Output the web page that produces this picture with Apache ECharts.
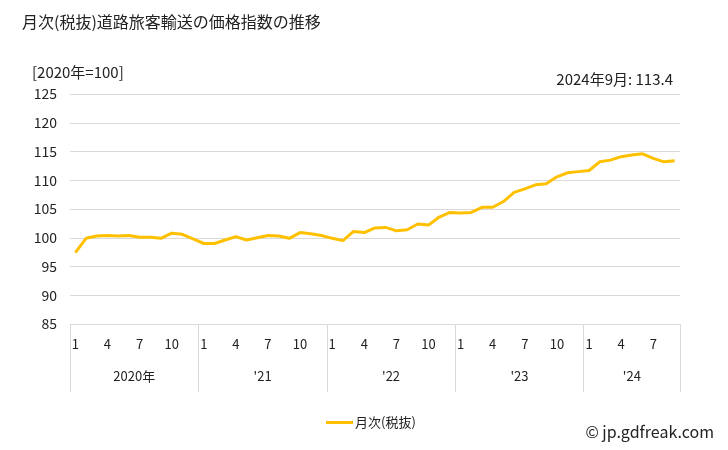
<!DOCTYPE html>
<html>
<head>
<meta charset="utf-8">
<script src="https://cdn.jsdelivr.net/npm/echarts@6/dist/echarts.min.js"></script>
<style>html,body{margin:0;padding:0;background:#fff}#c{width:728px;height:450px}</style>
</head>
<body>
<div id="c"></div>
<script>
var title = '月次(税抜)道路旅客輸送の価格指数の推移';
var unitLabel = '[2020年=100]';
var latestLabel = '2024年9月: 113.4';
var seriesName = '月次(税抜)';
var years = [2020, 2021, 2022, 2023, 2024];
var yearLabels = ['2020年', "'21", "'22", "'23", "'24"];
var monthsPerYear = [12, 12, 12, 12, 9];
var shownMonths = [1, 4, 7, 10];
var values = [
  97.4, 99.9, 100.3, 100.4, 100.3, 100.4, 100.1, 100.1, 99.9, 100.8, 100.6, 99.8,
  99.0, 99.0, 99.6, 100.2, 99.6, 100.0, 100.4, 100.3, 99.9, 100.9, 100.7, 100.4,
  99.9, 99.5, 101.1, 100.9, 101.7, 101.8, 101.2, 101.4, 102.4, 102.2, 103.6, 104.4,
  104.3, 104.4, 105.3, 105.3, 106.3, 107.9, 108.5, 109.2, 109.4, 110.6, 111.3, 111.5,
  111.7, 113.2, 113.5, 114.1, 114.4, 114.6, 113.8, 113.2, 113.4
];
var yMin = 85, yMax = 125, yStep = 5;

var categories = [];
var yearStarts = [];
var yearCenters = [];
var idx = 0;
for (var y = 0; y < years.length; y++) {
  yearStarts.push(idx);
  yearCenters.push(idx + monthsPerYear[y] / 2);
  for (var m = 1; m <= monthsPerYear[y]; m++) { categories.push(String(m)); idx++; }
}
yearStarts.push(idx);

var font = '"Noto Sans CJK JP", "Noto Sans", sans-serif';
var chart = echarts.init(document.getElementById('c'), null, {renderer: 'canvas'});
chart.setOption({
  backgroundColor: '#fff',
  animation: false,
  textStyle: {fontFamily: font},
  title: [
    {text: title, left: 17, top: 9, textStyle: {fontSize: 16, fontWeight: 'normal', color: '#222', fontFamily: font}},
    {text: unitLabel, left: 27, top: 60, textStyle: {fontSize: 15, fontWeight: 'normal', color: '#222', fontFamily: font}},
    {text: latestLabel, right: 50, top: 67, textStyle: {fontSize: 15, fontWeight: 'normal', color: '#222', fontFamily: font}},
    {text: '© jp.gdfreak.com', right: 9, top: 419, textStyle: {fontSize: 16, fontWeight: 'normal', color: '#222', fontFamily: font}}
  ],
  legend: {
    data: [seriesName], left: 321, top: 411, icon: 'rect', itemWidth: 27, itemHeight: 3, itemGap: 2,
    textStyle: {fontSize: 13, color: '#222', fontFamily: font, padding: [0, 0, 0, -3]}
  },
  grid: {left: 70, right: 48, top: 94, bottom: 126},
  xAxis: [
    {
      type: 'category', data: categories, boundaryGap: true,
      axisLine: {show: true, lineStyle: {color: '#d9d9d9', width: 1}},
      axisTick: {show: false},
      axisLabel: {
        interval: function (i, v) { return shownMonths.indexOf(Number(categories[i])) >= 0; },
        margin: 14, fontSize: 13, color: '#222', fontFamily: font
      },
      splitLine: {show: false}
    },
    {
      type: 'value', position: 'bottom', min: 0, max: categories.length,
      axisLine: {show: false},
      axisTick: {show: true, customValues: yearStarts, length: 68, lineStyle: {color: '#d9d9d9'}},
      axisLabel: {
        customValues: yearCenters, margin: 46, fontSize: 13, color: '#222', fontFamily: font,
        formatter: function (v) { var k = yearCenters.indexOf(v); return k >= 0 ? yearLabels[k] : ''; }
      },
      splitLine: {show: false}
    }
  ],
  yAxis: {
    type: 'value', min: yMin, max: yMax, interval: yStep,
    axisLine: {show: false}, axisTick: {show: false},
    axisLabel: {margin: 13, fontSize: 14, color: '#222', fontFamily: font},
    splitLine: {lineStyle: {color: '#d9d9d9', width: 1}}
  },
  series: [{
    name: seriesName, type: 'line', xAxisIndex: 0, data: values,
    symbol: 'none', lineStyle: {color: '#FFC000', width: 3}, itemStyle: {color: '#FFC000'}
  }]
});
</script>
</body>
</html>
